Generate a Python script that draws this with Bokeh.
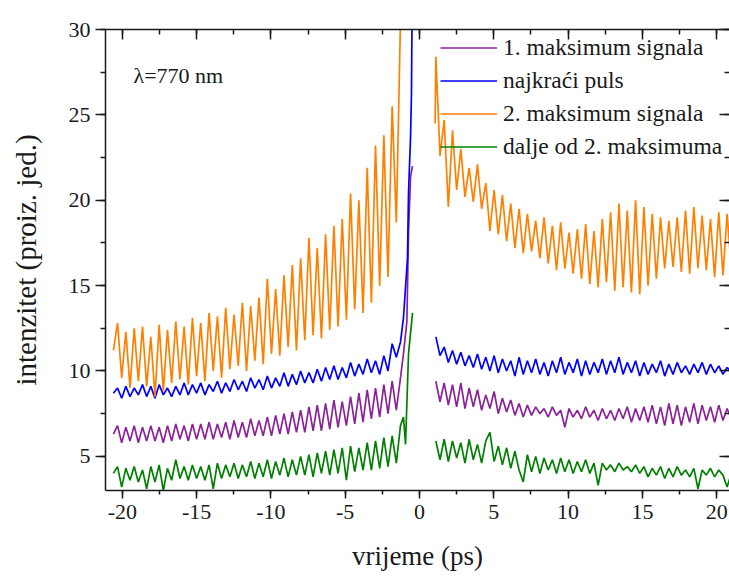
from bokeh.plotting import figure
from bokeh.models import (Range1d, LinearAxis, SingleIntervalTicker, Legend, LegendItem, Label,
                          CustomJSTickFormatter)
from bokeh.embed import file_html
from bokeh.resources import INLINE

# ---------------- data ----------------
t_left = [-20.6, -20.32, -20.04, -19.76, -19.48, -19.2, -18.92, -18.64, -18.36, -18.08,
          -17.8, -17.52, -17.24, -16.96, -16.68, -16.4, -16.12, -15.84, -15.56, -15.28,
          -15.0, -14.72, -14.44, -14.16, -13.88, -13.6, -13.32, -13.04, -12.76, -12.48,
          -12.2, -11.92, -11.64, -11.36, -11.08, -10.8, -10.52, -10.24, -9.96, -9.68,
          -9.4, -9.12, -8.84, -8.56, -8.28, -8.0, -7.72, -7.44, -7.16, -6.88,
          -6.6, -6.32, -6.04, -5.76, -5.48, -5.2, -4.92, -4.64, -4.36, -4.08,
          -3.8, -3.52, -3.24, -2.96, -2.68, -2.4, -2.12, -1.84, -1.56, -1.28]

t_right = [1.1, 1.38, 1.66, 1.94, 2.22, 2.5, 2.78, 3.06, 3.34, 3.62,
           3.9, 4.18, 4.46, 4.74, 5.02, 5.3, 5.58, 5.86, 6.14, 6.42,
           6.7, 6.98, 7.26, 7.54, 7.82, 8.1, 8.38, 8.66, 8.94, 9.22,
           9.5, 9.78, 10.06, 10.34, 10.62, 10.9, 11.18, 11.46, 11.74, 12.02,
           12.3, 12.58, 12.86, 13.14, 13.42, 13.7, 13.98, 14.26, 14.54, 14.82,
           15.1, 15.38, 15.66, 15.94, 16.22, 16.5, 16.78, 17.06, 17.34, 17.62,
           17.9, 18.18, 18.46, 18.74, 19.02, 19.3, 19.58, 19.86, 20.14, 20.42,
           20.7, 20.98]

# 2. maksimum signala (orange)
orange_left = [11.2, 12.8, 9.6, 12.3, 9.0, 12.5, 9.4, 12.6, 9.1, 12.0,
               8.5, 12.7, 8.8, 12.4, 9.3, 12.9, 9.5, 12.6, 9.2, 13.1,
               9.7, 12.8, 9.4, 13.4, 10.0, 13.2, 9.6, 13.7, 10.1, 13.3,
               10.3, 14.0, 10.0, 13.8, 10.6, 14.3, 10.4, 15.4, 11.0, 14.8,
               10.9, 15.6, 11.4, 16.2, 11.2, 16.6, 11.8, 17.8, 12.1, 17.2,
               11.9, 18.0, 12.4, 18.5, 12.6, 18.9, 13.0, 20.4, 13.6, 20.0,
               13.4, 21.9, 14.0, 23.2, 15.0, 23.8, 15.5, 25.5, 18.7, 30.5]
orange_right_start_t = [1.05]
orange_right_start_y = [24.5]
orange_right = [28.4, 22.6, 24.7, 19.6, 24.1, 20.6, 23.0, 20.2, 21.9, 19.9,
                22.1, 19.5, 21.0, 18.2, 20.6, 18.0, 20.3, 17.6, 19.8, 17.2,
                19.5, 16.9, 19.2, 17.0, 18.8, 16.6, 19.0, 16.3, 18.5, 15.9,
                18.7, 16.0, 18.1, 15.7, 18.3, 15.4, 18.6, 15.1, 18.2, 14.9,
                18.9, 15.2, 19.3, 14.7, 19.8, 14.9, 19.4, 14.6, 20.0, 14.5,
                19.6, 15.0, 19.2, 15.4, 19.0, 16.0, 18.8, 16.1, 19.0, 15.8,
                19.4, 15.7, 19.6, 16.0, 19.1, 15.9, 18.9, 15.5, 19.3, 15.6,
                19.2, 16.0]

# najkraci puls (blue)
blue_left = [8.7, 9.0, 8.4, 9.1, 8.5, 9.0, 8.6, 9.2, 8.5, 9.1,
             8.4, 9.2, 8.6, 9.0, 8.5, 9.1, 8.6, 9.3, 8.6, 9.2,
             8.7, 9.3, 8.6, 9.2, 8.8, 9.4, 8.7, 9.3, 8.8, 9.5,
             8.9, 9.4, 8.8, 9.6, 9.0, 9.5, 8.9, 9.7, 9.0, 9.6,
             9.1, 9.9, 9.1, 9.8, 9.2, 10.0, 9.3, 9.9, 9.3, 10.1,
             9.4, 10.2, 9.5, 10.3, 9.5, 10.2, 9.6, 10.5, 9.7, 10.4,
             9.8, 10.7, 9.9, 10.6, 9.8, 10.9, 10.0, 11.6, 10.8, 11.7]
blue_rise_t = [-1.08, -0.81, -0.74, -0.6, -0.54, -0.5]
blue_rise_y = [13.1, 16.6, 20.4, 23.8, 26.3, 31.0]
blue_right = [12.0, 10.9, 11.4, 10.5, 11.2, 10.4, 11.1, 10.3, 10.9, 10.2,
              11.0, 10.1, 10.8, 10.0, 10.9, 9.9, 10.7, 10.0, 10.6, 9.7,
              10.8, 9.8, 10.6, 9.9, 10.7, 9.8, 10.5, 9.7, 10.6, 9.9,
              10.8, 9.8, 10.5, 9.9, 10.7, 9.7, 10.6, 9.8, 10.5, 9.9,
              10.7, 9.8, 10.6, 9.9, 10.8, 9.8, 10.5, 9.9, 10.6, 9.7,
              10.5, 9.8, 10.4, 9.9, 10.6, 9.7, 10.4, 9.8, 10.5, 9.9,
              10.3, 9.8, 10.4, 9.9, 10.5, 9.8, 10.4, 9.9, 10.3, 9.8,
              10.2, 10.0]

# 1. maksimum signala (purple)
purple_left = [6.3, 6.8, 5.8, 6.7, 5.9, 6.8, 5.8, 6.7, 5.9, 6.8,
               5.9, 6.7, 5.8, 6.8, 5.9, 6.9, 6.0, 6.8, 5.9, 6.9,
               6.0, 6.9, 6.0, 7.0, 6.0, 6.9, 6.1, 7.0, 6.0, 7.1,
               6.1, 7.0, 6.1, 7.2, 6.2, 7.1, 6.2, 7.3, 6.2, 7.4,
               6.3, 7.5, 6.3, 7.6, 6.4, 7.7, 6.4, 7.9, 6.5, 8.0,
               6.5, 8.1, 6.6, 8.3, 6.7, 8.2, 6.8, 8.5, 6.9, 8.7,
               7.0, 8.9, 7.2, 9.0, 7.3, 9.2, 7.5, 9.4, 7.7, 9.6]
purple_rise_t = [-1.08, -0.85, -0.74, -0.6, -0.47]
purple_rise_y = [11.0, 12.9, 18.1, 21.4, 22.0]
purple_right = [9.4, 8.2, 9.3, 8.0, 9.2, 7.9, 9.3, 7.8, 9.0, 7.9,
                8.9, 7.7, 8.6, 7.8, 8.8, 7.5, 8.4, 7.6, 8.3, 7.4,
                8.1, 7.3, 8.0, 7.4, 7.9, 7.5, 7.8, 7.3, 7.9, 7.4,
                7.7, 6.7, 7.8, 7.3, 7.7, 7.2, 7.9, 7.3, 7.7, 7.1,
                7.8, 7.2, 7.7, 7.1, 7.8, 7.2, 7.9, 7.0, 7.8, 7.1,
                7.9, 7.0, 8.0, 6.9, 7.9, 6.8, 8.1, 6.9, 8.0, 6.8,
                7.9, 7.0, 8.1, 6.9, 8.0, 7.1, 7.9, 7.0, 8.0, 7.1,
                7.8, 7.2]

# dalje od 2. maksimuma (green)
green_left = [4.0, 4.4, 3.2, 4.3, 3.6, 4.4, 3.5, 4.2, 3.1, 4.4,
              3.5, 4.5, 3.0, 4.3, 3.6, 4.8, 3.7, 4.4, 3.6, 4.5,
              3.7, 4.4, 3.6, 4.5, 3.1, 4.6, 3.7, 4.5, 3.8, 4.6,
              3.7, 4.5, 3.8, 4.7, 3.7, 4.6, 3.8, 4.8, 3.7, 4.7,
              3.9, 4.9, 3.8, 4.8, 3.9, 5.0, 3.9, 5.1, 3.8, 5.2,
              4.0, 5.3, 3.9, 5.4, 4.0, 5.5, 3.6, 5.6, 4.1, 5.5,
              4.2, 5.8, 4.2, 5.9, 4.3, 6.1, 4.4, 6.2, 4.6, 6.8]
green_rise_t = [-1.08, -0.94, -0.74, -0.47]
green_rise_y = [7.3, 5.7, 11.0, 13.4]
green_right = [5.9, 4.8, 6.0, 4.7, 5.9, 4.9, 5.8, 4.6, 6.0, 4.8,
               5.7, 4.6, 5.9, 6.4, 4.7, 5.6, 4.5, 5.5, 4.3, 5.3,
               4.2, 3.5, 5.1, 4.1, 5.0, 4.0, 4.9, 4.2, 4.8, 4.0,
               4.9, 4.1, 4.8, 4.0, 4.7, 4.1, 4.8, 4.0, 4.6, 3.3,
               4.6, 4.2, 4.5, 4.1, 4.6, 4.2, 4.4, 4.1, 4.5, 4.0,
               4.4, 3.8, 4.3, 3.9, 4.4, 3.7, 4.3, 3.8, 4.4, 3.9,
               4.2, 3.8, 4.3, 3.1, 4.2, 3.9, 4.3, 3.8, 4.2, 3.9,
               3.2, 4.0]

labels = ["1. maksimum signala", "najkraći puls", "2. maksimum signala", "dalje od 2. maksimuma"]
x_label = "vrijeme (ps)"
y_label = "intenzitet (proiz. jed.)"
note = "λ=770 nm"

# ---------------- styling ----------------
PURPLE = "#8B2299"
BLUE = "#0000FF"
ORANGE = "#FF8000"
GREEN = "#008000"
FONT = "Liberation Serif"
INK = "#1a1a1a"
LW = 1.7

p = figure(width=729, height=579, output_backend="svg", toolbar_location=None,
           x_range=Range1d(-21.13, 20.86), y_range=Range1d(3, 30),
           x_axis_location=None, y_axis_location=None,
           min_border_left=105, min_border_right=0, min_border_top=29, min_border_bottom=89)
p.grid.visible = False
p.outline_line_color = None
p.background_fill_color = "white"
p.border_fill_color = "white"

plain = CustomJSTickFormatter(code="return tick.toString();")
blank = CustomJSTickFormatter(code="return '';")


def style_axis(ax, tin, tout, show_labels):
    ax.axis_line_color = INK
    ax.axis_line_width = 1.5
    ax.major_tick_line_color = INK
    ax.minor_tick_line_color = INK
    ax.major_tick_line_width = 1.5
    ax.minor_tick_line_width = 1.5
    ax.major_tick_in = tin[0]
    ax.minor_tick_in = tin[1]
    ax.major_tick_out = tout[0]
    ax.minor_tick_out = tout[1]
    if show_labels:
        ax.formatter = plain
        ax.major_label_text_font = FONT
        ax.major_label_text_font_size = "22px"
        ax.major_label_text_color = INK
    else:
        ax.formatter = blank
        ax.major_label_text_font_size = "1px"
        ax.major_label_standoff = 0


bottom = LinearAxis(ticker=SingleIntervalTicker(interval=5, num_minor_ticks=2), axis_label=x_label)
style_axis(bottom, (0, 0), (8, 4), True)
bottom.major_label_standoff = 6
bottom.axis_label_standoff = 19
bottom.axis_label_text_font = FONT
bottom.axis_label_text_font_size = "27px"
bottom.axis_label_text_font_style = "normal"
bottom.axis_label_text_color = INK
p.add_layout(bottom, "below")

left = LinearAxis(ticker=SingleIntervalTicker(interval=5, num_minor_ticks=2), axis_label=y_label)
style_axis(left, (0, 0), (10, 5), True)
left.major_label_standoff = 5
left.axis_label_standoff = 24
left.axis_label_text_font = FONT
left.axis_label_text_font_size = "29px"
left.axis_label_text_font_style = "normal"
left.axis_label_text_color = INK
p.add_layout(left, "left")

top = LinearAxis(ticker=SingleIntervalTicker(interval=5, num_minor_ticks=2))
style_axis(top, (10, 5), (0, 0), False)
p.add_layout(top, "above")

right = LinearAxis(ticker=SingleIntervalTicker(interval=5, num_minor_ticks=2))
style_axis(right, (10, 5), (0, 0), False)
right.axis_line_color = None
p.add_layout(right, "right")

# ---------------- lines ----------------
r_green_l = p.line(t_left + green_rise_t, green_left + green_rise_y, line_color=GREEN, line_width=LW)
p.line(t_right, green_right, line_color=GREEN, line_width=LW)
r_purple_l = p.line(t_left + purple_rise_t, purple_left + purple_rise_y, line_color=PURPLE, line_width=LW)
p.line(t_right, purple_right, line_color=PURPLE, line_width=LW)
r_blue_l = p.line(t_left + blue_rise_t, blue_left + blue_rise_y, line_color=BLUE, line_width=LW)
p.line(t_right, blue_right, line_color=BLUE, line_width=LW)
r_orange_l = p.line(t_left, orange_left, line_color=ORANGE, line_width=LW)
p.line(orange_right_start_t + t_right, orange_right_start_y + orange_right, line_color=ORANGE, line_width=LW)

legend = Legend(items=[LegendItem(label=labels[0], renderers=[r_purple_l]),
                       LegendItem(label=labels[1], renderers=[r_blue_l]),
                       LegendItem(label=labels[2], renderers=[r_orange_l]),
                       LegendItem(label=labels[3], renderers=[r_green_l])],
                location=(335, 330), glyph_width=57, glyph_height=25, label_height=25,
                spacing=6, padding=0, margin=0, label_standoff=6,
                background_fill_alpha=0, border_line_alpha=0,
                label_text_font=FONT, label_text_font_size="23.5px", label_text_color=INK)
p.add_layout(legend)

p.add_layout(Label(x=28, y=415, x_units="screen", y_units="screen", text=note,
                   text_font=FONT, text_font_size="22px", text_color=INK,
                   text_baseline="alphabetic"))

open("out.html", "w").write(file_html(p, INLINE))
